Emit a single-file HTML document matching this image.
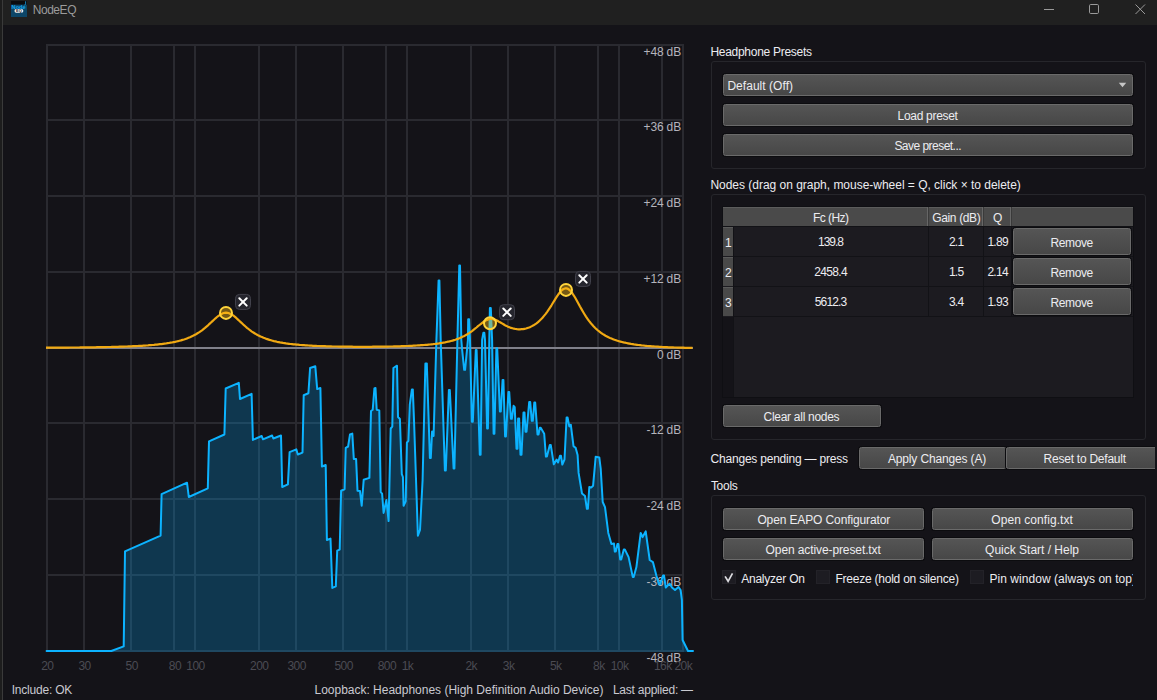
<!DOCTYPE html>
<html lang="en"><head><meta charset="utf-8"><title>NodeEQ</title>
<style>
html,body{margin:0;padding:0;background:#141318;}
body{width:1157px;height:700px;position:relative;overflow:hidden;font-family:"Liberation Sans",sans-serif;font-size:12px;color:#ececf0;}
.titlebar{position:absolute;left:3px;top:0;width:1154px;height:25px;background:#202020;}
.edge0{position:absolute;left:0;top:0;width:2px;height:700px;background:#1d1d1d;}
.edge1{position:absolute;left:2px;top:0;width:1px;height:700px;background:#3a3a3a;}
.appicon{position:absolute;left:11px;top:1px;}
.winbtn{position:absolute;}
.plot{position:absolute;left:0;top:0;}
.plot text{font-family:"Liberation Sans",sans-serif;font-size:12px;}
.dbl{fill:#b4b4bc;letter-spacing:-0.15px;}
.frl{fill:#4b4b53;letter-spacing:-0.55px;}
.t{position:absolute;line-height:14px;height:14px;white-space:nowrap;color:#ececf0;}
.t.title{color:#9b9b9b;}
.t.st{color:#c9c9d0;}
.gb{position:absolute;border:1px solid #26262b;border-radius:3px;box-sizing:border-box;}
.btn{position:absolute;border:1px solid #6a6a6a;border-radius:2.5px;background:linear-gradient(#555555,#474747);box-shadow:0 0 0 1px #0c0c0f;}
.clip{position:absolute;overflow:hidden;}
.tbl{position:absolute;background:#1c1b20;box-shadow:0 0 0 1px #0f0f13;}
.thead{position:absolute;background:#4a4a4a;border-top:1px solid #5c5c5c;box-sizing:border-box;}
.hsep{position:absolute;width:1px;background:#666666;box-shadow:1px 0 0 #3a3a3a;}
.rhead{position:absolute;background:#494949;border-top:1px solid #5a5a5a;box-sizing:border-box;}
.rline{position:absolute;height:1px;background:#121216;}
.vline{position:absolute;width:1px;background:#121216;}
.rcol{position:absolute;background:#141318;}
.cb{position:absolute;width:14px;height:14px;box-sizing:border-box;background:#1d1c22;border:1px solid #232228;}
.chk{position:absolute;}
</style></head>
<body>
<div class="titlebar"></div>
<div class="edge0"></div><div class="edge1"></div>
<svg class="appicon" width="16" height="16" viewBox="0 0 16 16">
<rect width="16" height="16" fill="#0d4668"/><rect width="16" height="3.6" fill="#0b0b0e"/>
<path d="M14.6 0.3v2.6q0 1-1.2 1.2" stroke="#1593d6" stroke-width="0.9" fill="none"/>
<text x="7.6" y="7.9" text-anchor="middle" font-size="5.6" font-weight="bold" fill="#15a6ee" font-family="Liberation Sans, sans-serif">Node</text>
<rect x="3.5" y="8.1" width="8.8" height="3.7" rx="1.7" fill="#f4f4f4"/>
<text x="7.9" y="11.3" text-anchor="middle" font-size="3.9" font-weight="bold" fill="#1c1c1c" font-family="Liberation Sans, sans-serif">EQ</text>
</svg>
<div class="t title" style="left:32.7px;top:3.0px;letter-spacing:-0.443px;">NodeEQ</div>
<svg class="winbtn" width="120" height="25" viewBox="0 0 120 25" style="left:1037px;top:0">
<path d="M7 9.5h10" stroke="#9a9a9a" stroke-width="1" fill="none"/>
<rect x="52.5" y="4.5" width="9" height="9" rx="1.2" stroke="#9a9a9a" stroke-width="1" fill="none"/>
<path d="M98.5 4.5l9.5 9.5m0 -9.5l-9.5 9.5" stroke="#9a9a9a" stroke-width="1" fill="none"/>
</svg>
<svg class="plot" width="700" height="680" viewBox="0 0 700 680">
<g fill="#2a2a30" shape-rendering="crispEdges"><rect x="46" y="44" width="2" height="608" /><rect x="83" y="44" width="2" height="608" /><rect x="130" y="44" width="2" height="608" /><rect x="173" y="44" width="2" height="608" /><rect x="194" y="44" width="2" height="608" /><rect x="258" y="44" width="2" height="608" /><rect x="295" y="44" width="2" height="608" /><rect x="342" y="44" width="2" height="608" /><rect x="385" y="44" width="2" height="608" /><rect x="406" y="44" width="2" height="608" /><rect x="470" y="44" width="2" height="608" /><rect x="507" y="44" width="2" height="608" /><rect x="554" y="44" width="2" height="608" /><rect x="597" y="44" width="2" height="608" /><rect x="618" y="44" width="2" height="608" /><rect x="661" y="44" width="2" height="608" /><rect x="682" y="44" width="2" height="608" /><rect x="46" y="44" width="638" height="2" /><rect x="46" y="119" width="638" height="2" /><rect x="46" y="195" width="638" height="2" /><rect x="46" y="271" width="638" height="2" /><rect x="46" y="347" width="638" height="2" /><rect x="46" y="422" width="638" height="2" /><rect x="46" y="498" width="638" height="2" /><rect x="46" y="574" width="638" height="2" /><rect x="46" y="650" width="638" height="2" /></g>
<rect x="46" y="347" width="647" height="2" fill="#80808a" shape-rendering="crispEdges"/>
<path d="M46.6 651.0 L111.3 651.0 L123.7 646.4 L125.0 551.4 L160.6 535.6 L161.6 494.1 L187.0 482.7 L188.8 497.0 L207.8 488.3 L209.0 441.4 L224.4 434.5 L225.7 388.5 L238.8 382.8 L240.0 399.0 L251.6 393.8 L252.9 439.9 L261.7 436.0 L263.0 439.3 L272.1 435.5 L273.3 438.5 L281.0 435.5 L282.2 487.0 L287.9 484.4 L289.6 452.2 L296.3 449.4 L297.8 454.5 L302.5 452.6 L303.7 395.2 L308.4 393.3 L310.1 368.0 L315.3 366.3 L317.2 389.1 L320.4 388.0 L321.9 466.5 L325.7 465.0 L326.9 540.0 L330.5 538.6 L332.3 587.9 L335.8 586.4 L337.2 550.7 L339.7 549.6 L341.1 490.7 L344.6 489.3 L345.7 447.8 L348.1 446.5 L350.0 434.5 L352.3 433.6 L353.8 458.9 L356.1 458.9 L357.5 490.8 L360.0 491.1 L361.7 505.7 L363.7 479.8 L369.4 477.9 L371.0 411.0 L372.7 409.8 L374.4 388.5 L375.5 388.0 L376.7 409.8 L379.3 410.4 L380.7 492.1 L382.1 493.6 L383.6 512.9 L386.4 500.0 L388.6 521.1 L390.7 428.5 L392.3 426.6 L393.4 368.0 L397.0 365.7 L398.0 417.0 L399.9 419.0 L401.8 474.1 L402.9 477.0 L403.6 505.7 L405.7 501.4 L406.9 442.7 L408.4 440.8 L409.8 404.7 L411.9 389.4 L412.8 389.4 L414.1 422.7 L417.9 535.7 L420.0 530.0 L422.6 480.0 L425.4 363.4 L426.8 363.4 L429.9 458.0 L430.8 458.0 L432.1 431.4 L433.6 436.0 L436.4 340.0 L438.6 280.4 L439.4 280.4 L440.7 340.0 L444.9 470.5 L445.8 470.5 L448.9 389.9 L449.8 389.9 L453.6 468.5 L454.4 468.5 L457.4 340.0 L459.3 265.4 L460.0 265.4 L461.3 340.0 L462.1 349.3 L464.2 369.8 L465.1 369.8 L467.9 340.0 L468.2 319.2 L469.1 319.2 L470.0 340.0 L471.9 421.7 L472.8 421.7 L475.8 350.0 L476.6 350.0 L479.8 454.7 L480.6 454.7 L482.1 340.0 L483.4 332.7 L484.3 332.7 L485.0 340.0 L487.1 428.5 L487.9 428.5 L489.3 340.0 L489.9 308.1 L490.8 308.1 L492.1 340.0 L493.6 433.8 L494.4 433.8 L496.4 348.2 L497.2 348.2 L499.9 411.5 L500.8 411.5 L502.6 379.9 L503.4 379.9 L505.1 436.5 L505.9 436.5 L508.4 391.9 L509.2 391.9 L510.9 418.8 L511.8 418.8 L513.6 405.8 L514.7 407.1 L516.5 448.8 L517.5 448.8 L518.1 418.4 L519.1 418.4 L520.5 454.7 L521.5 454.7 L523.5 412.5 L524.5 412.5 L525.5 431.7 L526.5 431.7 L529.2 402.1 L530.2 402.1 L531.8 420.8 L532.8 420.8 L534.3 402.6 L535.2 402.6 L537.5 434.5 L538.5 434.5 L539.8 427.8 L540.7 427.8 L544.2 433.7 L545.9 456.6 L546.9 456.6 L549.8 445.1 L550.8 445.1 L553.8 464.3 L556.7 459.6 L558.1 462.5 L560.0 455.8 L561.0 455.8 L562.3 464.5 L564.5 459.5 L566.6 417.6 L567.6 417.6 L569.3 426.4 L570.8 424.7 L573.5 446.2 L575.7 447.9 L577.6 455.0 L578.6 472.9 L582.0 493.5 L585.0 496.0 L586.9 508.8 L587.9 508.8 L589.3 487.0 L591.4 487.4 L593.1 485.7 L595.7 456.7 L599.3 457.4 L600.7 468.6 L602.7 502.0 L605.0 507.1 L608.3 532.9 L611.4 544.0 L614.0 543.6 L614.8 551.6 L615.8 551.6 L617.4 544.1 L618.4 544.1 L620.2 559.5 L621.2 559.5 L623.8 549.4 L624.8 549.4 L628.6 557.1 L632.8 577.1 L633.7 577.1 L636.4 567.1 L640.7 532.9 L642.6 537.1 L645.7 531.4 L649.7 560.0 L652.9 562.1 L656.4 575.7 L659.1 584.3 L660.1 584.3 L663.0 575.5 L664.0 575.5 L665.8 587.5 L669.6 583.6 L672.0 587.5 L675.0 590.0 L678.5 587.0 L680.6 590.0 L681.9 600.2 L682.6 640.0 L688.0 651.0 L693.0 651.0 L693 652 L46 652 Z" fill="rgba(0,170,255,0.24)" stroke="none"/>
<g class="dbl"><text x="681" y="55.6" text-anchor="end">+48 dB</text><text x="681" y="130.6" text-anchor="end">+36 dB</text><text x="681" y="206.6" text-anchor="end">+24 dB</text><text x="681" y="282.6" text-anchor="end">+12 dB</text><text x="681" y="358.6" text-anchor="end">0 dB</text><text x="681" y="433.6" text-anchor="end">-12 dB</text><text x="681" y="509.6" text-anchor="end">-24 dB</text><text x="681" y="585.6" text-anchor="end">-36 dB</text><text x="681" y="661.6" text-anchor="end">-48 dB</text></g>
<g class="frl"><text x="47.3" y="670" text-anchor="middle">20</text><text x="84.6" y="670" text-anchor="middle">30</text><text x="131.7" y="670" text-anchor="middle">50</text><text x="174.9" y="670" text-anchor="middle">80</text><text x="195.5" y="670" text-anchor="middle">100</text><text x="259.3" y="670" text-anchor="middle">200</text><text x="296.6" y="670" text-anchor="middle">300</text><text x="343.7" y="670" text-anchor="middle">500</text><text x="386.9" y="670" text-anchor="middle">800</text><text x="407.5" y="670" text-anchor="middle">1k</text><text x="471.3" y="670" text-anchor="middle">2k</text><text x="508.6" y="670" text-anchor="middle">3k</text><text x="555.7" y="670" text-anchor="middle">5k</text><text x="598.9" y="670" text-anchor="middle">8k</text><text x="619.5" y="670" text-anchor="middle">10k</text><text x="662.8" y="670" text-anchor="middle">16k</text><text x="683.3" y="670" text-anchor="middle">20k</text></g>
<path d="M46.6 651.0 L111.3 651.0 L123.7 646.4 L125.0 551.4 L160.6 535.6 L161.6 494.1 L187.0 482.7 L188.8 497.0 L207.8 488.3 L209.0 441.4 L224.4 434.5 L225.7 388.5 L238.8 382.8 L240.0 399.0 L251.6 393.8 L252.9 439.9 L261.7 436.0 L263.0 439.3 L272.1 435.5 L273.3 438.5 L281.0 435.5 L282.2 487.0 L287.9 484.4 L289.6 452.2 L296.3 449.4 L297.8 454.5 L302.5 452.6 L303.7 395.2 L308.4 393.3 L310.1 368.0 L315.3 366.3 L317.2 389.1 L320.4 388.0 L321.9 466.5 L325.7 465.0 L326.9 540.0 L330.5 538.6 L332.3 587.9 L335.8 586.4 L337.2 550.7 L339.7 549.6 L341.1 490.7 L344.6 489.3 L345.7 447.8 L348.1 446.5 L350.0 434.5 L352.3 433.6 L353.8 458.9 L356.1 458.9 L357.5 490.8 L360.0 491.1 L361.7 505.7 L363.7 479.8 L369.4 477.9 L371.0 411.0 L372.7 409.8 L374.4 388.5 L375.5 388.0 L376.7 409.8 L379.3 410.4 L380.7 492.1 L382.1 493.6 L383.6 512.9 L386.4 500.0 L388.6 521.1 L390.7 428.5 L392.3 426.6 L393.4 368.0 L397.0 365.7 L398.0 417.0 L399.9 419.0 L401.8 474.1 L402.9 477.0 L403.6 505.7 L405.7 501.4 L406.9 442.7 L408.4 440.8 L409.8 404.7 L411.9 389.4 L412.8 389.4 L414.1 422.7 L417.9 535.7 L420.0 530.0 L422.6 480.0 L425.4 363.4 L426.8 363.4 L429.9 458.0 L430.8 458.0 L432.1 431.4 L433.6 436.0 L436.4 340.0 L438.6 280.4 L439.4 280.4 L440.7 340.0 L444.9 470.5 L445.8 470.5 L448.9 389.9 L449.8 389.9 L453.6 468.5 L454.4 468.5 L457.4 340.0 L459.3 265.4 L460.0 265.4 L461.3 340.0 L462.1 349.3 L464.2 369.8 L465.1 369.8 L467.9 340.0 L468.2 319.2 L469.1 319.2 L470.0 340.0 L471.9 421.7 L472.8 421.7 L475.8 350.0 L476.6 350.0 L479.8 454.7 L480.6 454.7 L482.1 340.0 L483.4 332.7 L484.3 332.7 L485.0 340.0 L487.1 428.5 L487.9 428.5 L489.3 340.0 L489.9 308.1 L490.8 308.1 L492.1 340.0 L493.6 433.8 L494.4 433.8 L496.4 348.2 L497.2 348.2 L499.9 411.5 L500.8 411.5 L502.6 379.9 L503.4 379.9 L505.1 436.5 L505.9 436.5 L508.4 391.9 L509.2 391.9 L510.9 418.8 L511.8 418.8 L513.6 405.8 L514.7 407.1 L516.5 448.8 L517.5 448.8 L518.1 418.4 L519.1 418.4 L520.5 454.7 L521.5 454.7 L523.5 412.5 L524.5 412.5 L525.5 431.7 L526.5 431.7 L529.2 402.1 L530.2 402.1 L531.8 420.8 L532.8 420.8 L534.3 402.6 L535.2 402.6 L537.5 434.5 L538.5 434.5 L539.8 427.8 L540.7 427.8 L544.2 433.7 L545.9 456.6 L546.9 456.6 L549.8 445.1 L550.8 445.1 L553.8 464.3 L556.7 459.6 L558.1 462.5 L560.0 455.8 L561.0 455.8 L562.3 464.5 L564.5 459.5 L566.6 417.6 L567.6 417.6 L569.3 426.4 L570.8 424.7 L573.5 446.2 L575.7 447.9 L577.6 455.0 L578.6 472.9 L582.0 493.5 L585.0 496.0 L586.9 508.8 L587.9 508.8 L589.3 487.0 L591.4 487.4 L593.1 485.7 L595.7 456.7 L599.3 457.4 L600.7 468.6 L602.7 502.0 L605.0 507.1 L608.3 532.9 L611.4 544.0 L614.0 543.6 L614.8 551.6 L615.8 551.6 L617.4 544.1 L618.4 544.1 L620.2 559.5 L621.2 559.5 L623.8 549.4 L624.8 549.4 L628.6 557.1 L632.8 577.1 L633.7 577.1 L636.4 567.1 L640.7 532.9 L642.6 537.1 L645.7 531.4 L649.7 560.0 L652.9 562.1 L656.4 575.7 L659.1 584.3 L660.1 584.3 L663.0 575.5 L664.0 575.5 L665.8 587.5 L669.6 583.6 L672.0 587.5 L675.0 590.0 L678.5 587.0 L680.6 590.0 L681.9 600.2 L682.6 640.0 L688.0 651.0 L693.0 651.0" fill="none" stroke="#0cb3ff" stroke-width="2" stroke-linejoin="round" stroke-linecap="round"/>
<path d="M46.0 347.7 L47.5 347.7 L49.0 347.7 L50.5 347.7 L52.0 347.7 L53.5 347.7 L55.0 347.6 L56.5 347.6 L58.0 347.6 L59.5 347.6 L61.0 347.6 L62.5 347.6 L64.0 347.6 L65.5 347.6 L67.0 347.6 L68.5 347.6 L70.0 347.5 L71.5 347.5 L73.0 347.5 L74.5 347.5 L76.0 347.5 L77.5 347.5 L79.0 347.5 L80.5 347.4 L82.0 347.4 L83.5 347.4 L85.0 347.4 L86.5 347.4 L88.0 347.4 L89.5 347.3 L91.0 347.3 L92.5 347.3 L94.0 347.3 L95.5 347.3 L97.0 347.2 L98.5 347.2 L100.0 347.2 L101.5 347.2 L103.0 347.1 L104.5 347.1 L106.0 347.1 L107.5 347.0 L109.0 347.0 L110.5 347.0 L112.0 346.9 L113.5 346.9 L115.0 346.9 L116.5 346.8 L118.0 346.8 L119.5 346.7 L121.0 346.7 L122.5 346.6 L124.0 346.6 L125.5 346.5 L127.0 346.5 L128.5 346.4 L130.0 346.4 L131.5 346.3 L133.0 346.2 L134.5 346.2 L136.0 346.1 L137.5 346.0 L139.0 345.9 L140.5 345.8 L142.0 345.8 L143.5 345.7 L145.0 345.6 L146.5 345.5 L148.0 345.4 L149.5 345.2 L151.0 345.1 L152.5 345.0 L154.0 344.9 L155.5 344.7 L157.0 344.6 L158.5 344.4 L160.0 344.2 L161.5 344.1 L163.0 343.9 L164.5 343.7 L166.0 343.5 L167.5 343.2 L169.0 343.0 L170.5 342.7 L172.0 342.5 L173.5 342.2 L175.0 341.9 L176.5 341.5 L178.0 341.2 L179.5 340.8 L181.0 340.4 L182.5 339.9 L184.0 339.5 L185.5 339.0 L187.0 338.4 L188.5 337.8 L190.0 337.2 L191.5 336.5 L193.0 335.8 L194.5 335.0 L196.0 334.2 L197.5 333.3 L199.0 332.4 L200.5 331.3 L202.0 330.3 L203.5 329.1 L205.0 327.9 L206.5 326.6 L208.0 325.3 L209.5 323.9 L211.0 322.5 L212.5 321.1 L214.0 319.7 L215.5 318.3 L217.0 317.0 L218.5 315.8 L220.0 314.8 L221.5 313.9 L223.0 313.2 L224.5 312.8 L226.0 312.7 L227.5 312.8 L229.0 313.2 L230.5 313.9 L232.0 314.7 L233.5 315.7 L235.0 316.9 L236.5 318.2 L238.0 319.6 L239.5 321.0 L241.0 322.4 L242.5 323.8 L244.0 325.2 L245.5 326.5 L247.0 327.8 L248.5 329.0 L250.0 330.2 L251.5 331.3 L253.0 332.3 L254.5 333.2 L256.0 334.1 L257.5 335.0 L259.0 335.7 L260.5 336.5 L262.0 337.1 L263.5 337.8 L265.0 338.3 L266.5 338.9 L268.0 339.4 L269.5 339.9 L271.0 340.3 L272.5 340.7 L274.0 341.1 L275.5 341.4 L277.0 341.8 L278.5 342.1 L280.0 342.4 L281.5 342.6 L283.0 342.9 L284.5 343.1 L286.0 343.4 L287.5 343.6 L289.0 343.8 L290.5 344.0 L292.0 344.1 L293.5 344.3 L295.0 344.4 L296.5 344.6 L298.0 344.7 L299.5 344.9 L301.0 345.0 L302.5 345.1 L304.0 345.2 L305.5 345.3 L307.0 345.4 L308.5 345.5 L310.0 345.6 L311.5 345.7 L313.0 345.8 L314.5 345.8 L316.0 345.9 L317.5 346.0 L319.0 346.0 L320.5 346.1 L322.0 346.1 L323.5 346.2 L325.0 346.2 L326.5 346.3 L328.0 346.3 L329.5 346.4 L331.0 346.4 L332.5 346.5 L334.0 346.5 L335.5 346.5 L337.0 346.5 L338.5 346.6 L340.0 346.6 L341.5 346.6 L343.0 346.6 L344.5 346.7 L346.0 346.7 L347.5 346.7 L349.0 346.7 L350.5 346.7 L352.0 346.7 L353.5 346.8 L355.0 346.8 L356.5 346.8 L358.0 346.8 L359.5 346.8 L361.0 346.8 L362.5 346.8 L364.0 346.8 L365.5 346.8 L367.0 346.8 L368.5 346.8 L370.0 346.8 L371.5 346.8 L373.0 346.7 L374.5 346.7 L376.0 346.7 L377.5 346.7 L379.0 346.7 L380.5 346.7 L382.0 346.7 L383.5 346.6 L385.0 346.6 L386.5 346.6 L388.0 346.6 L389.5 346.5 L391.0 346.5 L392.5 346.5 L394.0 346.4 L395.5 346.4 L397.0 346.3 L398.5 346.3 L400.0 346.3 L401.5 346.2 L403.0 346.2 L404.5 346.1 L406.0 346.0 L407.5 346.0 L409.0 345.9 L410.5 345.9 L412.0 345.8 L413.5 345.7 L415.0 345.6 L416.5 345.5 L418.0 345.4 L419.5 345.3 L421.0 345.2 L422.5 345.1 L424.0 345.0 L425.5 344.9 L427.0 344.8 L428.5 344.6 L430.0 344.5 L431.5 344.3 L433.0 344.2 L434.5 344.0 L436.0 343.8 L437.5 343.6 L439.0 343.4 L440.5 343.1 L442.0 342.9 L443.5 342.6 L445.0 342.4 L446.5 342.0 L448.0 341.7 L449.5 341.4 L451.0 341.0 L452.5 340.6 L454.0 340.1 L455.5 339.7 L457.0 339.1 L458.5 338.6 L460.0 338.0 L461.5 337.3 L463.0 336.6 L464.5 335.9 L466.0 335.0 L467.5 334.1 L469.0 333.2 L470.5 332.2 L472.0 331.1 L473.5 329.9 L475.0 328.7 L476.5 327.5 L478.0 326.2 L479.5 325.0 L481.0 323.8 L482.5 322.6 L484.0 321.5 L485.5 320.6 L487.0 319.9 L488.5 319.3 L490.0 319.0 L491.5 319.0 L493.0 319.2 L494.5 319.6 L496.0 320.1 L497.5 320.8 L499.0 321.7 L500.5 322.5 L502.0 323.4 L503.5 324.3 L505.0 325.2 L506.5 325.9 L508.0 326.7 L509.5 327.3 L511.0 327.9 L512.5 328.3 L514.0 328.7 L515.5 329.0 L517.0 329.2 L518.5 329.3 L520.0 329.3 L521.5 329.2 L523.0 329.1 L524.5 328.8 L526.0 328.5 L527.5 328.0 L529.0 327.5 L530.5 326.9 L532.0 326.1 L533.5 325.3 L535.0 324.3 L536.5 323.3 L538.0 322.1 L539.5 320.7 L541.0 319.3 L542.5 317.7 L544.0 315.9 L545.5 314.1 L547.0 312.1 L548.5 309.9 L550.0 307.6 L551.5 305.3 L553.0 302.8 L554.5 300.4 L556.0 297.9 L557.5 295.6 L559.0 293.5 L560.5 291.6 L562.0 290.0 L563.5 289.0 L565.0 288.4 L566.5 288.4 L568.0 288.9 L569.5 290.0 L571.0 291.5 L572.5 293.5 L574.0 295.8 L575.5 298.3 L577.0 301.0 L578.5 303.7 L580.0 306.5 L581.5 309.1 L583.0 311.7 L584.5 314.2 L586.0 316.6 L587.5 318.8 L589.0 320.9 L590.5 322.8 L592.0 324.6 L593.5 326.3 L595.0 327.8 L596.5 329.2 L598.0 330.5 L599.5 331.7 L601.0 332.8 L602.5 333.9 L604.0 334.8 L605.5 335.7 L607.0 336.5 L608.5 337.3 L610.0 338.0 L611.5 338.6 L613.0 339.2 L614.5 339.8 L616.0 340.3 L617.5 340.8 L619.0 341.2 L620.5 341.6 L622.0 342.0 L623.5 342.4 L625.0 342.7 L626.5 343.0 L628.0 343.3 L629.5 343.6 L631.0 343.9 L632.5 344.1 L634.0 344.4 L635.5 344.6 L637.0 344.8 L638.5 345.0 L640.0 345.2 L641.5 345.4 L643.0 345.5 L644.5 345.7 L646.0 345.8 L647.5 346.0 L649.0 346.1 L650.5 346.2 L652.0 346.3 L653.5 346.4 L655.0 346.5 L656.5 346.6 L658.0 346.7 L659.5 346.8 L661.0 346.9 L662.5 347.0 L664.0 347.1 L665.5 347.1 L667.0 347.2 L668.5 347.3 L670.0 347.3 L671.5 347.4 L673.0 347.4 L674.5 347.5 L676.0 347.5 L677.5 347.6 L679.0 347.6 L680.5 347.7 L682.0 347.7 L683.5 347.7 L685.0 347.8 L686.5 347.8 L688.0 347.8 L689.5 347.8 L691.0 347.8 L692.5 347.9" fill="none" stroke="#f0a913" stroke-width="2.2" stroke-linejoin="round"/>
<circle cx="226.0" cy="312.9" r="6" fill="rgba(250,185,20,0.42)" stroke="#ffd43b" stroke-width="2"/>
<rect x="235.5" y="294.4" width="15" height="15" rx="4" fill="#25252d" stroke="#41414b" stroke-width="1"/>
<path d="M239.3 298.2 l7.4 7.4 m0 -7.4 l-7.4 7.4" stroke="#ffffff" stroke-width="2" stroke-linecap="round" fill="none"/>
<circle cx="490.0" cy="323.2" r="6" fill="rgba(250,185,20,0.42)" stroke="#ffd43b" stroke-width="2"/>
<rect x="499.5" y="304.7" width="15" height="15" rx="4" fill="#25252d" stroke="#41414b" stroke-width="1"/>
<path d="M503.3 308.5 l7.4 7.4 m0 -7.4 l-7.4 7.4" stroke="#ffffff" stroke-width="2" stroke-linecap="round" fill="none"/>
<circle cx="566.0" cy="289.9" r="6" fill="rgba(250,185,20,0.42)" stroke="#ffd43b" stroke-width="2"/>
<rect x="575.5" y="271.4" width="15" height="15" rx="4" fill="#25252d" stroke="#41414b" stroke-width="1"/>
<path d="M579.3 275.2 l7.4 7.4 m0 -7.4 l-7.4 7.4" stroke="#ffffff" stroke-width="2" stroke-linecap="round" fill="none"/>
</svg>
<div class="t st" style="left:11.7px;top:682.5px;letter-spacing:-0.207px;">Include: OK</div>
<div class="t st" style="left:314.5px;top:682.5px;letter-spacing:-0.010px;">Loopback: Headphones (High Definition Audio Device)</div>
<div class="t st" style="left:612.9px;top:682.5px;letter-spacing:-0.226px;">Last applied: —</div>
<div class="t " style="left:710.4px;top:45.0px;letter-spacing:-0.278px;">Headphone Presets</div>
<div class="gb" style="left:711px;top:61px;width:435px;height:108px"></div>
<div class="btn" style="left:723px;top:74px;width:408px;height:20px"></div>
<svg class="chk" width="9" height="6" viewBox="0 0 9 6" style="left:1118px;top:82px"><path d="M0.8 0.8h7.4L4.5 5.2z" fill="#c6c6c6"/></svg>
<div class="t " style="left:727.4px;top:78.6px;letter-spacing:0.041px;">Default (Off)</div>
<div class="btn" style="left:723px;top:104px;width:408px;height:20px;"></div><div class="t " style="left:897.5px;top:108.5px;letter-spacing:-0.296px;">Load preset</div>
<div class="btn" style="left:723px;top:134px;width:408px;height:20px;"></div><div class="t " style="left:894.4px;top:138.5px;letter-spacing:-0.531px;">Save preset...</div>
<div class="t " style="left:710.4px;top:177.9px;letter-spacing:-0.019px;">Nodes (drag on graph, mouse-wheel = Q, click × to delete)</div>
<div class="gb" style="left:711px;top:194px;width:435px;height:246px"></div>
<div class="tbl" style="left:723px;top:207px;width:410px;height:190px"></div>
<div class="thead" style="left:723px;top:207px;width:410px;height:19px"></div>
<div class="hsep" style="left:927px;top:207px;height:19px"></div>
<div class="hsep" style="left:982px;top:207px;height:19px"></div>
<div class="hsep" style="left:1010px;top:207px;height:19px"></div>
<div class="t " style="left:812.9px;top:210.8px;letter-spacing:-0.521px;">Fc (Hz)</div>
<div class="t " style="left:932.3px;top:210.8px;letter-spacing:-0.368px;">Gain (dB)</div>
<div class="t " style="left:993.1px;top:210.8px;">Q</div>
<div class="rhead" style="left:723px;top:227px;width:10px;height:29px"></div>
<div class="rline" style="left:733px;top:256px;width:400px"></div>
<div class="t " style="left:725.0px;top:236.1px;">1</div>
<div class="t " style="left:818.0px;top:234.8px;letter-spacing:-1.004px;">139.8</div>
<div class="t " style="left:948.9px;top:234.8px;letter-spacing:-0.736px;">2.1</div>
<div class="t " style="left:987.4px;top:234.8px;letter-spacing:-0.715px;">1.89</div>
<div class="btn" style="left:1013px;top:228px;width:116px;height:25px;"></div><div class="t " style="left:1050.5px;top:235.8px;letter-spacing:-0.378px;">Remove</div>
<div class="rhead" style="left:723px;top:257px;width:10px;height:29px"></div>
<div class="rline" style="left:733px;top:286px;width:400px"></div>
<div class="t " style="left:725.0px;top:266.1px;">2</div>
<div class="t " style="left:814.3px;top:264.8px;letter-spacing:-0.658px;">2458.4</div>
<div class="t " style="left:948.9px;top:264.8px;letter-spacing:-0.736px;">1.5</div>
<div class="t " style="left:987.4px;top:264.8px;letter-spacing:-0.715px;">2.14</div>
<div class="btn" style="left:1013px;top:258px;width:116px;height:25px;"></div><div class="t " style="left:1050.5px;top:265.8px;letter-spacing:-0.378px;">Remove</div>
<div class="rhead" style="left:723px;top:287px;width:10px;height:29px"></div>
<div class="rline" style="left:733px;top:316px;width:400px"></div>
<div class="t " style="left:725.0px;top:296.1px;">3</div>
<div class="t " style="left:814.8px;top:294.8px;letter-spacing:-0.858px;">5612.3</div>
<div class="t " style="left:948.9px;top:294.8px;letter-spacing:-0.736px;">3.4</div>
<div class="t " style="left:987.4px;top:294.8px;letter-spacing:-0.715px;">1.93</div>
<div class="btn" style="left:1013px;top:288px;width:116px;height:25px;"></div><div class="t " style="left:1050.5px;top:295.8px;letter-spacing:-0.378px;">Remove</div>
<div class="vline" style="left:928px;top:227px;height:90px"></div>
<div class="vline" style="left:983px;top:227px;height:90px"></div>
<div class="vline" style="left:1011px;top:227px;height:90px"></div>
<div class="rcol" style="left:723px;top:317px;width:10px;height:80px"></div>
<div class="vline" style="left:733px;top:226px;height:171px"></div>
<div class="rline" style="left:723px;top:226px;width:410px"></div>
<div class="btn" style="left:723px;top:405px;width:156px;height:20px;"></div><div class="t " style="left:763.6px;top:409.5px;letter-spacing:-0.289px;">Clear all nodes</div>
<div class="t " style="left:710.6px;top:451.8px;letter-spacing:-0.216px;">Changes pending — press</div>
<div class="btn" style="left:859px;top:447px;width:146px;height:20px;"></div><div class="t " style="left:887.9px;top:451.5px;letter-spacing:-0.144px;">Apply Changes (A)</div>
<div class="clip" style="left:1000px;top:440px;width:155px;height:36px"><div class="btn" style="left:6px;top:7px;width:160px;height:20px"></div></div>
<div class="t " style="left:1043.6px;top:451.5px;letter-spacing:-0.241px;">Reset to Default</div>
<div class="t " style="left:710.9px;top:478.6px;letter-spacing:-0.279px;">Tools</div>
<div class="gb" style="left:711px;top:495px;width:435px;height:105px"></div>
<div class="btn" style="left:723px;top:508px;width:199px;height:20px;"></div><div class="t " style="left:757.4px;top:512.5px;letter-spacing:-0.122px;">Open EAPO Configurator</div>
<div class="btn" style="left:932px;top:508px;width:199px;height:20px;"></div><div class="t " style="left:991.3px;top:512.5px;letter-spacing:0.059px;">Open config.txt</div>
<div class="btn" style="left:723px;top:538px;width:199px;height:20px;"></div><div class="t " style="left:765.6px;top:542.5px;letter-spacing:-0.102px;">Open active-preset.txt</div>
<div class="btn" style="left:932px;top:538px;width:199px;height:20px;"></div><div class="t " style="left:985.1px;top:542.5px;letter-spacing:-0.006px;">Quick Start / Help</div>
<div class="cb" style="left:722px;top:570px"></div><svg class="chk" width="14" height="14" viewBox="0 0 14 14" style="left:722px;top:570px"><path d="M3.1 6.4L6.1 11.3L10.5 3.3" stroke="#dcdce0" stroke-width="1.7" fill="none"/></svg>
<div class="t " style="left:741.2px;top:572.1px;letter-spacing:-0.222px;">Analyzer On</div>
<div class="cb" style="left:816px;top:570px"></div>
<div class="t " style="left:835.4px;top:572.1px;letter-spacing:-0.227px;">Freeze (hold on silence)</div>
<div class="cb" style="left:970px;top:570px"></div>
<div class="t " style="left:989.5px;top:572.1px;letter-spacing:0.044px;width:143.3px;overflow:hidden;">Pin window (always on top)</div>
</body></html>
